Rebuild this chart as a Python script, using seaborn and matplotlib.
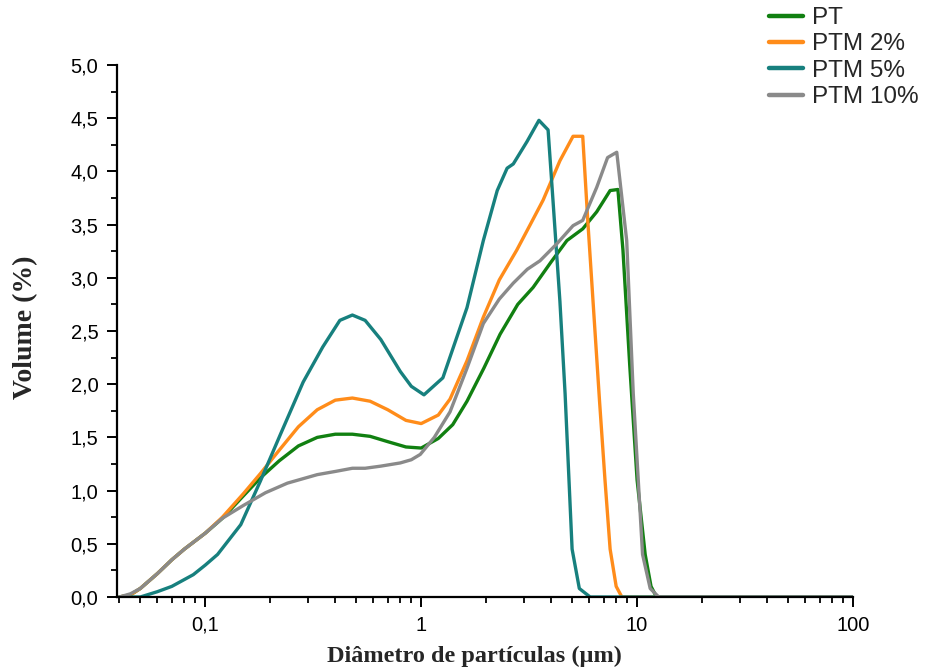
import numpy as np
import pandas as pd
import matplotlib
matplotlib.use("Agg")
import matplotlib.pyplot as plt
import matplotlib.ticker as mticker
import seaborn as sns

series_names = ["PT", "PTM 2%", "PTM 5%", "PTM 10%"]
colors = ["#118011", "#ff8c1a", "#17807e", "#8a8a8a"]

pt_x = [0.04, 0.045, 0.05, 0.06, 0.07, 0.08, 0.1, 0.12, 0.15, 0.18, 0.22, 0.27, 0.33, 0.4, 0.48, 0.58, 0.7, 0.85, 1.0, 1.2, 1.4, 1.63, 1.95, 2.32, 2.8, 3.3, 4.0, 4.73, 5.6, 6.5, 7.5, 8.15, 8.6, 9.25, 10.0, 10.9, 11.6, 12.3, 100]
pt_y = [0.0, 0.02, 0.08, 0.22, 0.35, 0.45, 0.6, 0.74, 0.95, 1.12, 1.28, 1.42, 1.50, 1.53, 1.53, 1.51, 1.46, 1.41, 1.40, 1.49, 1.62, 1.84, 2.15, 2.47, 2.75, 2.91, 3.15, 3.35, 3.46, 3.62, 3.82, 3.83, 3.26, 2.17, 1.1, 0.4, 0.1, 0.0, 0.0]

ptm2_x = [0.04, 0.045, 0.05, 0.06, 0.07, 0.08, 0.1, 0.12, 0.15, 0.18, 0.22, 0.27, 0.33, 0.4, 0.48, 0.58, 0.7, 0.85, 1.0, 1.2, 1.36, 1.63, 1.94, 2.3, 2.77, 3.2, 3.67, 4.39, 5.05, 5.6, 5.9, 6.25, 6.7, 7.1, 7.5, 8.0, 8.5, 100]
ptm2_y = [0.0, 0.02, 0.08, 0.22, 0.35, 0.45, 0.6, 0.75, 0.97, 1.16, 1.38, 1.6, 1.76, 1.85, 1.87, 1.84, 1.76, 1.66, 1.63, 1.71, 1.86, 2.22, 2.63, 2.98, 3.26, 3.5, 3.73, 4.10, 4.33, 4.33, 3.56, 2.78, 1.84, 1.1, 0.45, 0.1, 0.0, 0.0]

ptm5_x = [0.04, 0.05, 0.06, 0.07, 0.088, 0.1, 0.114, 0.146, 0.18, 0.223, 0.284, 0.35, 0.42, 0.48, 0.55, 0.65, 0.8, 0.9, 1.03, 1.26, 1.63, 1.94, 2.25, 2.5, 2.67, 3.09, 3.51, 3.87, 4.08, 4.39, 4.64, 5.0, 5.4, 6.06, 100]
ptm5_y = [0.0, 0.0, 0.05, 0.1, 0.21, 0.3, 0.40, 0.68, 1.09, 1.53, 2.02, 2.35, 2.6, 2.65, 2.6, 2.42, 2.12, 1.98, 1.90, 2.06, 2.72, 3.35, 3.82, 4.03, 4.07, 4.28, 4.48, 4.39, 3.72, 2.78, 1.91, 0.45, 0.08, 0.0, 0.0]

ptm10_x = [0.04, 0.045, 0.05, 0.06, 0.07, 0.08, 0.1, 0.12, 0.15, 0.19, 0.24, 0.33, 0.4, 0.48, 0.55, 0.65, 0.8, 0.9, 0.99, 1.15, 1.36, 1.63, 1.94, 2.3, 2.67, 3.1, 3.55, 4.25, 5.05, 5.6, 6.5, 7.3, 8.05, 8.95, 9.6, 10.6, 11.5, 12.6, 100]
ptm10_y = [0.0, 0.03, 0.08, 0.22, 0.35, 0.45, 0.6, 0.74, 0.86, 0.98, 1.07, 1.15, 1.18, 1.21, 1.21, 1.23, 1.26, 1.29, 1.34, 1.50, 1.74, 2.15, 2.57, 2.80, 2.95, 3.08, 3.16, 3.32, 3.49, 3.54, 3.85, 4.13, 4.18, 3.35, 1.91, 0.4, 0.08, 0.0, 0.0]

x_ticks = [0.1, 1, 10, 100]
x_tick_labels = ["0,1", "1", "10", "100"]
y_ticks = [0.0, 0.5, 1.0, 1.5, 2.0, 2.5, 3.0, 3.5, 4.0, 4.5, 5.0]

frames = []
for name, xs, ys in zip(series_names,
                        [pt_x, ptm2_x, ptm5_x, ptm10_x],
                        [pt_y, ptm2_y, ptm5_y, ptm10_y]):
    frames.append(pd.DataFrame({"x": xs, "y": ys, "serie": name}))
df = pd.concat(frames, ignore_index=True)

sns.set_theme(style="ticks")
plt.rcParams["font.family"] = ["Liberation Sans", "DejaVu Sans"]

fig = plt.figure(figsize=(9.26, 6.70), dpi=100)
ax = fig.add_axes([117/926, 1-597/670, (853-117)/926, (597-65)/670])

sns.lineplot(data=df, x="x", y="y", hue="serie", hue_order=series_names,
             palette=dict(zip(series_names, colors)), sort=False, estimator=None,
             units="serie", linewidth=2.4, ax=ax, legend=False)

ax.set_xscale("log")
ax.set_xlim(0.039, 100)
ax.set_ylim(0, 5)

ax.xaxis.set_major_locator(mticker.FixedLocator(x_ticks))
ax.xaxis.set_major_formatter(mticker.FixedFormatter(x_tick_labels))
ax.xaxis.set_minor_locator(mticker.LogLocator(base=10, subs=np.arange(2, 10)))
ax.xaxis.set_minor_formatter(mticker.NullFormatter())
ax.yaxis.set_major_locator(mticker.FixedLocator(y_ticks))
ax.yaxis.set_minor_locator(mticker.MultipleLocator(0.25))
ax.yaxis.set_major_formatter(mticker.FuncFormatter(lambda v, p: f"{v:.1f}".replace(".", ",")))

for s in ["top", "right"]:
    ax.spines[s].set_visible(False)
for s in ["left", "bottom"]:
    ax.spines[s].set_color("black")
    ax.spines[s].set_linewidth(1.6)

ax.tick_params(which="major", direction="out", length=7.5, width=1.4, colors="black",
               labelsize=14.5, pad=6)
ax.tick_params(which="minor", direction="out", length=4, width=1.3, colors="black")

serif = ["Liberation Serif", "DejaVu Serif"]
ax.set_xlabel("Diâmetro de partículas (µm)", fontsize=17.5, fontweight="bold", family=serif)
ax.set_ylabel("Volume (%)", fontsize=20, fontweight="bold", family=serif)
ax.xaxis.set_label_coords(0.486, -0.091)
ax.yaxis.set_label_coords(-0.107, 0.507)

handles = [plt.Line2D([], [], color=c, linewidth=3.2) for c in colors]
fig.legend(handles, series_names, loc="upper left", bbox_to_anchor=(769/926, 1-7/670),
           frameon=False, fontsize=17.5, handlelength=1.4, handletextpad=0.35,
           labelspacing=0.18, borderpad=0, borderaxespad=0)

fig.savefig("out.png", dpi=100)
